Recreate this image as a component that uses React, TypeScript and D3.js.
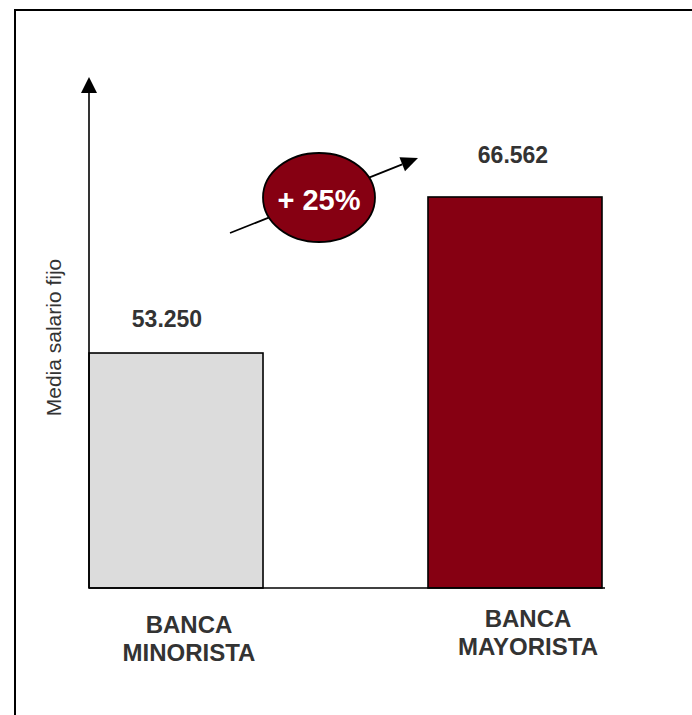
import React from "react";
import * as d3 from "d3";

// ---- data ----
const categories = ["BANCA MINORISTA", "BANCA MAYORISTA"];
const categoryLines = [["BANCA", "MINORISTA"], ["BANCA", "MAYORISTA"]];
const values = [53250, 66562];
const valueLabels = ["53.250", "66.562"];
const changeLabel = "+ 25%";
const yAxisTitle = "Media salario fijo";
const yDomain = [33200, 76800];

// ---- layout ----
const W = 692;
const H = 715;
const plotLeft = 89;
const plotRight = 602;
const baseY = 588;
const axisTopY = 77;
const barFills = ["#dcdcdc", "#860012"];
const valueLabelDx = [-9, -2];
const valueLabelDy = [-26, -34];
const catLabelDx = [13, 13];
const catLabelBaseline = [633, 627];
const FONT = "Arial, 'Liberation Sans', Helvetica, sans-serif";

export default function App() {
  const x = d3
    .scaleBand<string>()
    .domain(categories)
    .range([plotLeft, plotRight])
    .paddingInner(0.4867)
    .paddingOuter(0)
    .align(0);
  const y = d3.scaleLinear().domain(yDomain).range([baseY, axisTopY]);

  // Growth arrow from first bar region to second
  const ax0 = 230, ay0 = 233, ax1 = 418, ay1 = 158;
  const ang = Math.atan2(ay1 - ay0, ax1 - ax0);
  const hl = 17, hw = 7.5;
  const bx = ax1 - hl * Math.cos(ang);
  const by = ay1 - hl * Math.sin(ang);
  const px = -Math.sin(ang), py = Math.cos(ang);
  const head = `M${ax1},${ay1} L${bx + px * hw},${by + py * hw} L${bx - px * hw},${by - py * hw} Z`;

  const ecx = 319, ecy = 197.5, erx = 56, ery = 44.5;

  return (
    <svg
      width={W}
      height={H}
      style={{ position: "absolute", left: 0, top: 0, background: "#fff" }}
      fontFamily={FONT}
    >
      {/* outer frame (right and bottom beyond view) */}
      <rect x={15} y={10} width={W + 20} height={H + 20} fill="#fff" stroke="#000" strokeWidth={2} />

      {/* y axis title */}
      <text
        transform={`translate(61,${337.5}) rotate(-90)`}
        textAnchor="middle"
        fontSize={21}
        fill="#333"
      >
        {yAxisTitle}
      </text>

      {/* bars */}
      {categories.map((c, i) => (
        <rect
          key={c}
          x={x(c)}
          y={y(values[i])}
          width={x.bandwidth()}
          height={baseY - y(values[i])}
          fill={barFills[i]}
          stroke="#000"
          strokeWidth={1.6}
        />
      ))}

      {/* x axis baseline */}
      <line x1={plotLeft} x2={plotRight + 3} y1={baseY} y2={baseY} stroke="#000" strokeWidth={1.6} />

      {/* y axis with arrow */}
      <line x1={plotLeft} x2={plotLeft} y1={baseY} y2={axisTopY + 14} stroke="#000" strokeWidth={1.6} />
      <path
        d={`M${plotLeft},${axisTopY} L${plotLeft - 8},${axisTopY + 16} L${plotLeft + 8},${axisTopY + 16} Z`}
        fill="#000"
      />

      {/* value labels */}
      {categories.map((c, i) => (
        <text
          key={c + "v"}
          x={(x(c) as number) + x.bandwidth() / 2 + valueLabelDx[i]}
          y={y(values[i]) + valueLabelDy[i]}
          textAnchor="middle"
          fontSize={23}
          fontWeight="bold"
          fill="#333"
        >
          {valueLabels[i]}
        </text>
      ))}

      {/* category labels */}
      {categories.map((c, i) => (
        <text
          key={c + "c"}
          textAnchor="middle"
          fontSize={24}
          fontWeight="bold"
          fill="#333"
        >
          {categoryLines[i].map((ln, j) => (
            <tspan
              key={j}
              x={(x(c) as number) + x.bandwidth() / 2 + catLabelDx[i]}
              y={catLabelBaseline[i] + j * 27.5}
            >
              {ln}
            </tspan>
          ))}
        </text>
      ))}

      {/* growth arrow */}
      <line x1={ax0} y1={ay0} x2={bx} y2={by} stroke="#000" strokeWidth={1.8} />
      <path d={head} fill="#000" />

      {/* ellipse badge */}
      <ellipse cx={ecx} cy={ecy} rx={erx} ry={ery} fill="#860012" stroke="#000" strokeWidth={1.8} />
      <text x={ecx} y={ecy + 12.5} textAnchor="middle" fontSize={29} fontWeight="bold" fill="#fff">
        {changeLabel}
      </text>
    </svg>
  );
}
